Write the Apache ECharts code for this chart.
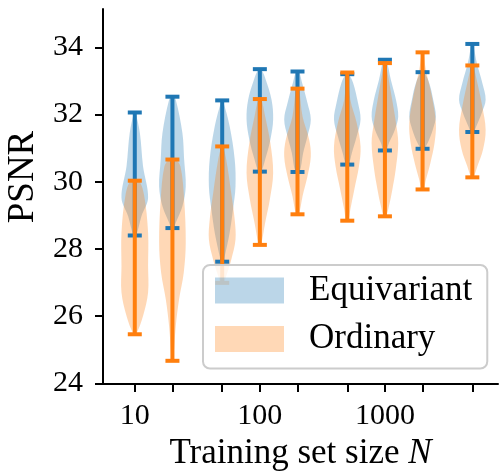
<!DOCTYPE html>
<html>
<head>
<meta charset="utf-8">
<script src="https://cdn.jsdelivr.net/npm/echarts@6/dist/echarts.min.js"></script>
<style>
  html, body { margin: 0; padding: 0; background: #fff; }
  #chart { width: 499px; height: 474px; }
</style>
</head>
<body>
<div id="chart"></div>
<script>
// training set sizes (one violin pair per size)
const sizes = [10, 20, 50, 100, 200, 500, 1000, 2000, 5000];
const xLabelSizes = [10, 100, 1000];
const yTicks = [24, 26, 28, 30, 32, 34];

// extrema bars
const equivariantMax = [32.06, 32.53, 32.42, 33.35, 33.28, 33.20, 33.63, 33.26, 34.10];
const equivariantMin = [28.40, 28.62, 27.62, 30.30, 30.29, 30.51, 30.93, 30.98, 31.48];
const ordinaryMax = [30.03, 30.66, 31.05, 32.46, 32.77, 33.25, 33.53, 33.85, 33.46];
const ordinaryMin = [25.46, 24.67, 26.99, 28.12, 29.03, 28.84, 28.97, 29.77, 30.13];

// violin outlines: [PSNR, relative density], top to bottom
const equivariantShape = [
  [[32.06, 0.05], [31.46, 0.38], [30.46, 0.62], [29.52, 1.0], [28.97, 0.5], [28.40, 0.1]],
  [[32.53, 0.05], [32.44, 0.25], [31.45, 0.75], [30.66, 0.88], [29.86, 1.0], [29.27, 0.75], [28.78, 0.25], [28.62, 0.08]],
  [[32.42, 0.05], [31.65, 0.56], [30.66, 0.94], [29.86, 1.0], [29.17, 0.81], [28.48, 0.56], [27.78, 0.19], [27.62, 0.08]],
  [[33.35, 0.1], [33.03, 0.45], [32.44, 0.88], [31.85, 1.0], [31.25, 0.79], [30.66, 0.4], [30.30, 0.1]],
  [[33.28, 0.1], [32.94, 0.35], [32.34, 0.75], [31.85, 1.0], [31.35, 0.75], [30.86, 0.43], [30.29, 0.15]],
  [[33.20, 0.1], [32.94, 0.44], [32.34, 0.81], [31.85, 1.0], [31.35, 0.71], [30.86, 0.35], [30.51, 0.1]],
  [[33.63, 0.1], [33.03, 0.45], [32.44, 0.83], [31.94, 1.0], [31.55, 0.75], [31.15, 0.3], [30.93, 0.1]],
  [[33.26, 0.1], [32.94, 0.5], [32.44, 0.8], [31.94, 1.0], [31.55, 0.77], [31.15, 0.38], [30.98, 0.1]],
  [[34.10, 0.05], [33.53, 0.34], [32.94, 0.75], [32.44, 1.0], [32.04, 0.7], [31.65, 0.3], [31.48, 0.1]]
];
const ordinaryShape = [
  [[30.03, 0.3], [29.60, 0.7], [28.49, 1.0], [27.49, 1.0], [26.70, 1.0], [26.00, 0.62], [25.46, 0.1]],
  [[30.66, 0.2], [30.46, 0.6], [29.47, 0.88], [28.18, 1.0], [27.29, 0.85], [26.50, 0.5], [25.70, 0.25], [24.67, 0.05]],
  [[31.05, 0.05], [30.66, 0.3], [29.66, 0.68], [28.87, 0.94], [28.28, 1.0], [27.68, 0.68], [27.19, 0.3], [26.99, 0.1]],
  [[32.46, 0.1], [31.94, 0.4], [31.15, 0.79], [30.26, 1.0], [29.47, 0.75], [28.78, 0.4], [28.12, 0.08]],
  [[32.77, 0.1], [31.94, 0.38], [31.25, 0.88], [30.75, 1.0], [30.16, 0.75], [29.57, 0.38], [29.03, 0.1]],
  [[33.25, 0.05], [32.44, 0.23], [31.75, 0.71], [31.05, 1.0], [30.46, 0.88], [29.77, 0.53], [29.17, 0.23], [28.84, 0.08]],
  [[33.53, 0.05], [32.54, 0.5], [31.75, 0.83], [31.15, 1.0], [30.36, 0.81], [29.77, 0.56], [29.27, 0.3], [28.97, 0.08]],
  [[33.85, 0.05], [33.33, 0.25], [32.54, 0.7], [31.75, 1.0], [31.15, 0.9], [30.56, 0.59], [30.06, 0.25], [29.77, 0.08]],
  [[33.46, 0.05], [32.94, 0.38], [32.24, 0.75], [31.55, 1.0], [30.95, 0.8], [30.46, 0.38], [30.13, 0.08]]
];

const BLUE = '#1f77b4';
const ORANGE = '#ff7f0e';
const HALF_WIDTH = 13.3;   // px at density 1
const CAP = 7;              // px half length of the caps
const FONT = 'Liberation Serif';

const xData = sizes.map((n, i) => [Math.log10(n), i]);

function violin(shapes, fill) {
  return function (params, api) {
    const x = api.value(0);
    const prof = shapes[params.dataIndex];
    const right = [], left = [];
    prof.forEach(([v, d]) => {
      const p = api.coord([x, v]);
      right.push([p[0] + d * HALF_WIDTH, p[1]]);
      left.unshift([p[0] - d * HALF_WIDTH, p[1]]);
    });
    return {
      type: 'polygon',
      shape: { points: right.concat(left), smooth: 0.35 },
      style: { fill: fill, stroke: null },
      z2: 1
    };
  };
}

function bars(maxs, mins, color) {
  return function (params, api) {
    const x = api.value(0);
    const i = params.dataIndex;
    const top = api.coord([x, maxs[i]]);
    const bot = api.coord([x, mins[i]]);
    const st = { stroke: color, lineWidth: 4 };
    return {
      type: 'group',
      children: [
        { type: 'line', shape: { x1: top[0], y1: top[1], x2: bot[0], y2: bot[1] }, style: st },
        { type: 'line', shape: { x1: top[0] - CAP, y1: top[1], x2: top[0] + CAP, y2: top[1] }, style: st },
        { type: 'line', shape: { x1: bot[0] - CAP, y1: bot[1], x2: bot[0] + CAP, y2: bot[1] }, style: st }
      ]
    };
  };
}

const chart = echarts.init(document.getElementById('chart'));
chart.setOption({
  animation: false,
  backgroundColor: '#fff',
  grid: { left: 103, right: 1, top: 9, bottom: 90, outerBoundsMode: 'none' },
  xAxis: {
    type: 'value',
    min: Math.log10(5.57),
    max: Math.log10(8020),
    splitLine: { show: false },
    axisLine: { lineStyle: { color: '#000', width: 2 } },
    axisTick: {
      show: true, length: 8, lineStyle: { color: '#000', width: 2 },
      customValues: sizes.map(n => Math.log10(n))
    },
    axisLabel: {
      customValues: xLabelSizes.map(n => Math.log10(n)),
      formatter: v => String(Math.round(Math.pow(10, v))),
      color: '#000', fontFamily: FONT, fontSize: 30, margin: 17
    },
    name: 'Training set size {i|N}',
    nameLocation: 'middle',
    nameGap: 50,
    nameTextStyle: {
      color: '#000', fontFamily: FONT, fontSize: 35,
      rich: { i: { fontStyle: 'italic', fontFamily: FONT, fontSize: 35, color: '#000' } }
    }
  },
  yAxis: {
    type: 'value',
    min: 23.98,
    max: 35.14,
    splitLine: { show: false },
    axisLine: { show: true, lineStyle: { color: '#000', width: 2 } },
    axisTick: { show: true, length: 8, lineStyle: { color: '#000', width: 2 }, customValues: yTicks },
    axisLabel: { customValues: yTicks, color: '#000', fontFamily: FONT, fontSize: 30, margin: 20 }
  },
  graphic: [{
    type: 'text',
    x: 5, y: 177,
    rotation: Math.PI / 2,
    style: {
      text: 'PSNR', fill: '#000', font: '37px "Liberation Serif"',
      textAlign: 'center', textVerticalAlign: 'top'
    }
  }],
  legend: {
    orient: 'vertical',
    left: 203, top: 265,
    padding: [8, 15, 12, 12],
    itemWidth: 69, itemHeight: 26, itemGap: 13.5,
    icon: 'rect',
    backgroundColor: 'rgba(255,255,255,0.8)',
    borderColor: '#cccccc', borderWidth: 2, borderRadius: 7,
    textStyle: { color: '#000', fontFamily: FONT, fontSize: 35, lineHeight: 26, padding: [0, 0, 0, 20] },
    data: ['Equivariant', 'Ordinary']
  },
  series: [
    { name: 'Equivariant', type: 'custom', data: xData, renderItem: violin(equivariantShape, 'rgba(31,119,180,0.3)'),
      itemStyle: { color: 'rgba(31,119,180,0.3)' }, z: 1, silent: true },
    { name: 'Ordinary', type: 'custom', data: xData, renderItem: violin(ordinaryShape, 'rgba(255,127,14,0.3)'),
      itemStyle: { color: 'rgba(255,127,14,0.3)' }, z: 1, silent: true },
    { type: 'custom', data: xData, renderItem: bars(equivariantMax, equivariantMin, BLUE), z: 2, silent: true },
    { type: 'custom', data: xData, renderItem: bars(ordinaryMax, ordinaryMin, ORANGE), z: 3, silent: true }
  ]
});
</script>
</body>
</html>
